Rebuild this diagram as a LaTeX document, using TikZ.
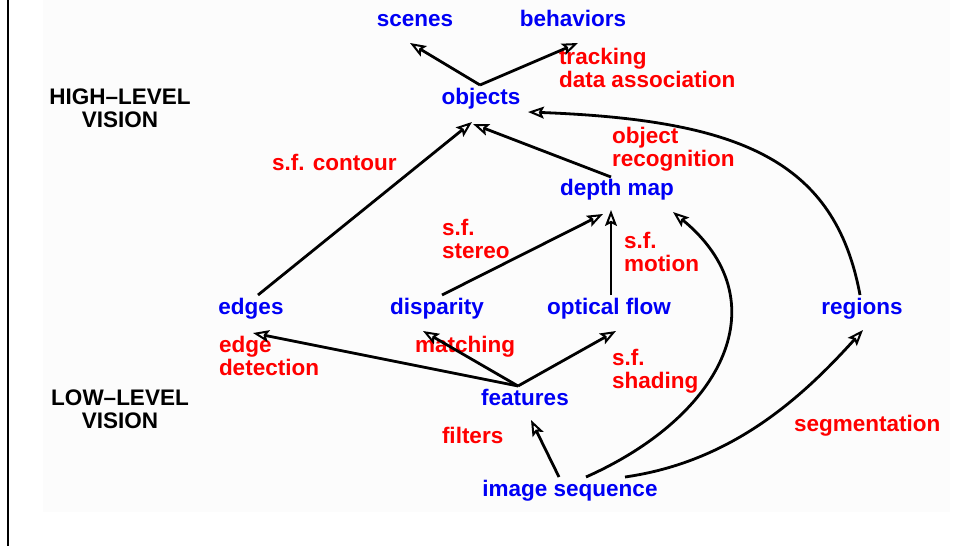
\documentclass[tikz,border=0pt]{standalone}
\usepackage{fontspec}
\setmainfont{Liberation Sans}
\usetikzlibrary{arrows.meta}
\definecolor{bgc}{RGB}{252,252,252}
\definecolor{nblue}{RGB}{0,0,245}
\definecolor{nred}{RGB}{255,0,0}
\tikzset{
  every node/.style={inner sep=0pt, outer sep=0pt, font=\fontsize{22.5}{23}\selectfont\bfseries},
  concept/.style={text=nblue, anchor=base},
  proc/.style={text=nred, anchor=base west, align=left},
  level/.style={text=black, anchor=base, align=center},
  conn/.style={line width=2.8pt, -{Stealth[open, length=16pt, width=12pt, inset=3pt, line width=2pt]}},
}
\begin{document}
\begin{tikzpicture}[x=1pt, y=-1pt]
\useasboundingbox (0,0) rectangle (959,546);
\fill[white] (0,0) rectangle (959,546);
\fill[bgc] (43,0) rectangle (950,512);
\draw[line width=2.5pt] (8,0) -- (8,546);

% concepts
\node[concept] (scenes) at (415,26) {scenes};
\node[concept] (behaviors) at (573,26) {behaviors};
\node[concept] (objects) at (481,104) {objects};
\node[concept] (depthmap) at (617,195) {depth map};
\node[concept] (edges) at (251,314) {edges};
\node[concept] (disparity) at (437,314) {disparity};
\node[concept] (opticalflow) at (609,314) {optical flow};
\node[concept] (regions) at (862,314) {regions};
\node[concept] (features) at (525,405) {features};
\node[concept] (imageseq) at (570,496) {image sequence};

% levels (base = baseline of last line)
\node[level] (high) at (120,127) {HIGH--LEVEL\\VISION};
\node[level] (low) at (120,428) {LOW--LEVEL\\VISION};

% process labels
\node[proc] (tracking) at (559,87) {tracking\\data association};
\node[proc] (objrec) at (612,166) {object\\recognition};
\node[proc] (contour) at (272,170) {s.f. contour};
\node[proc] (stereo) at (442,258) {s.f.\\stereo};
\node[proc] (motion) at (624,271) {s.f.\\motion};
\node[proc] (edgedet) at (219,375) {edge\\detection};
\node[proc] (matching) at (415,352) {matching};
\node[proc] (shading) at (612,388) {s.f.\\shading};
\node[proc] (filters) at (442,443) {filters};
\node[proc] (segm) at (794,431) {segmentation};

% connectors
\draw[conn] ([shift={(-1,-19)}]objects.base) -- ([shift={(-5,17)}]scenes.base);
\draw[conn] ([shift={(-1,-19)}]objects.base) -- ([shift={(5,17)}]behaviors.base);
\draw[conn] ([shift={(7,-19)}]edges.base) -- ([shift={(-9,18)}]objects.base);
\draw[conn] ([shift={(-6,-18)}]depthmap.base) -- ([shift={(-8,20)}]objects.base);
\draw[conn] ([shift={(-2,-19)}]regions.base) .. controls (835,160) and (740,120) .. ([shift={(47,8)}]objects.base);
\draw[conn] ([shift={(5,-19)}]disparity.base) -- ([shift={(-14,19)}]depthmap.base);
\draw[conn] ([shift={(2,-19)}]opticalflow.base) -- ([shift={(-6,15)}]depthmap.base);
\draw[conn] ([shift={(16,-19)}]imageseq.base) .. controls (725,415) and (780,300) .. ([shift={(56,17)}]depthmap.base);
\draw[conn] ([shift={(-7,-19)}]features.base) -- ([shift={(2,19)}]edges.base);
\draw[conn] ([shift={(-7,-19)}]features.base) -- ([shift={(-14,17)}]disparity.base);
\draw[conn] ([shift={(-7,-19)}]features.base) -- ([shift={(7,17)}]opticalflow.base);
\draw[conn] ([shift={(-11,-19)}]imageseq.base) -- ([shift={(6,15)}]features.base);
\draw[conn] ([shift={(55,-19)}]imageseq.base) .. controls (730,462) and (800,400) .. ([shift={(1,16)}]regions.base);
\end{tikzpicture}
\end{document}
